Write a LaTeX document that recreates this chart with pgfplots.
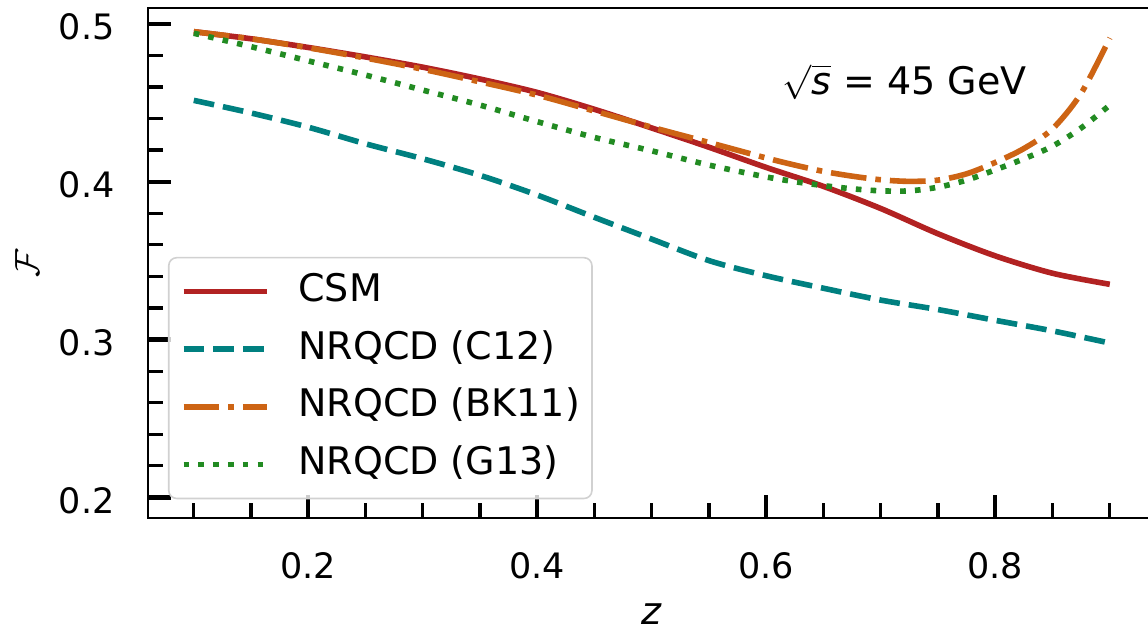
\documentclass[border=0pt]{standalone}
\usepackage{fontspec}
\setmainfont{DejaVu Sans}
\usepackage{pgfplots}
\pgfplotsset{compat=1.18}
\usepackage{pgfplotstable}

\definecolor{csm}{RGB}{178,34,34}
\definecolor{cxii}{RGB}{0,128,128}
\definecolor{bk}{RGB}{205,100,20}
\definecolor{gxiii}{RGB}{34,139,34}

\pgfplotstableread{
z F
0.10 0.495
0.15 0.4905
0.20 0.485
0.25 0.479
0.30 0.4725
0.35 0.465
0.40 0.4565
0.45 0.4458
0.50 0.434
0.55 0.4218
0.60 0.409
0.65 0.397
0.70 0.383
0.75 0.367
0.80 0.353
0.85 0.342
0.90 0.335
}\csm

\pgfplotstableread{
z F
0.10 0.4515
0.15 0.4435
0.20 0.4345
0.25 0.4240
0.30 0.4145
0.35 0.4040
0.40 0.3915
0.45 0.3774
0.50 0.3636
0.55 0.3500
0.60 0.3404
0.65 0.3325
0.70 0.3250
0.75 0.3190
0.80 0.3122
0.85 0.3055
0.90 0.2978
}\cxii

\pgfplotstableread{
z F
0.10 0.495
0.15 0.4905
0.20 0.4848
0.25 0.4783
0.30 0.4712
0.35 0.4632
0.40 0.4548
0.45 0.4447
0.50 0.4345
0.55 0.4248
0.60 0.4150
0.625 0.4105
0.65 0.4065
0.675 0.4035
0.70 0.4012
0.725 0.4002
0.75 0.4010
0.775 0.4050
0.80 0.4122
0.825 0.4210
0.85 0.4335
0.875 0.4560
0.90 0.4910
}\bk

\pgfplotstableread{
z F
0.10 0.494
0.15 0.4855
0.20 0.4765
0.25 0.4675
0.30 0.4580
0.35 0.4485
0.40 0.4380
0.45 0.4280
0.50 0.4195
0.55 0.4105
0.60 0.4030
0.625 0.4000
0.65 0.3975
0.675 0.3955
0.70 0.3942
0.725 0.3942
0.75 0.3965
0.775 0.4010
0.80 0.4075
0.825 0.4145
0.85 0.4225
0.875 0.4340
0.90 0.4485
}\gxiii

\begin{document}
\begin{tikzpicture}
\begin{axis}[
  at={(0,0)}, anchor=south west,
  scale only axis,
  width=503.8pt, height=255pt,
  xmin=0.06, xmax=0.94,
  ymin=0.187, ymax=0.51,
  axis line style={black, line width=0.8pt},
  tick align=inside,
  xtick pos=bottom, ytick pos=left,
  xtick={0.2,0.4,0.6,0.8},
  xticklabels={0.2,0.4,0.6,0.8},
  minor xtick={0.1,0.15,0.25,0.3,0.35,0.45,0.5,0.55,0.65,0.7,0.75,0.85,0.9},
  ytick={0.2,0.3,0.4,0.5},
  yticklabels={0.2,0.3,0.4,0.5},
  minor ytick={0.22,0.24,0.26,0.28,0.32,0.34,0.36,0.38,0.42,0.44,0.46,0.48},
  major tick length=11.5pt,
  minor tick length=7.5pt,
  every major tick/.append style={line width=2.1pt, black},
  every minor tick/.append style={line width=1.6pt, black},
  tick label style={font=\fontsize{17.5}{21}\selectfont, inner sep=0pt},
  xticklabel style={anchor=center, yshift=-24pt},
  yticklabel style={anchor=east, xshift=-16.5pt, yshift=-1.5pt},
  every axis x label/.style={at={(axis description cs:0.5,0)}, anchor=center, yshift=-48pt, font=\fontsize{19}{23}\selectfont},
  every axis y label/.style={at={(axis description cs:-0.1201,0.5)}, rotate=90, anchor=center, font=\fontsize{19}{23}\selectfont},
  xlabel={\textit{z}},
  ylabel={$\mathcal{F}$},
  legend cell align=left,
  legend image code/.code={\draw[#1] (0pt,0pt) -- (41.5pt,0pt);},
  legend style={at={(0.0198,0.512)}, anchor=north west,
    draw=black!18, line width=0.8pt, rounded corners=4pt,
    fill=white, fill opacity=0.8, text opacity=1,
    font=\fontsize{19}{23}\selectfont,
    inner xsep=6pt, inner ysep=8pt,
    row sep=10.8pt, column sep=14.5pt,
    nodes={inner sep=0pt, text height=14pt, text depth=4pt}},
]
\addplot[csm, line width=2.8pt, smooth] table[x=z,y=F] {\csm};
\addlegendentry{CSM}
\addplot[cxii, line width=2.8pt, smooth, dash pattern=on 10.4pt off 4.5pt] table[x=z,y=F] {\cxii};
\addlegendentry{NRQCD (C12)}
\addplot[bk, line width=2.8pt, smooth, dash pattern=on 17.9pt off 4.5pt on 2.8pt off 4.5pt] table[x=z,y=F] {\bk};
\addlegendentry{NRQCD (BK11)}
\addplot[gxiii, line width=2.8pt, smooth, dash pattern=on 2.8pt off 4.6pt] table[x=z,y=F] {\gxiii};
\addlegendentry{NRQCD (G13)}
\node[anchor=base west, font=\fontsize{19}{23}\selectfont, inner sep=0pt] at (axis cs:0.614,0.4553) {$\sqrt{\textit{s}}$ = 45 GeV};
\end{axis}
\pgfresetboundingbox
\path[use as bounding box] (-74pt,-56.5pt) rectangle (500pt,259pt);
\end{tikzpicture}
\end{document}
